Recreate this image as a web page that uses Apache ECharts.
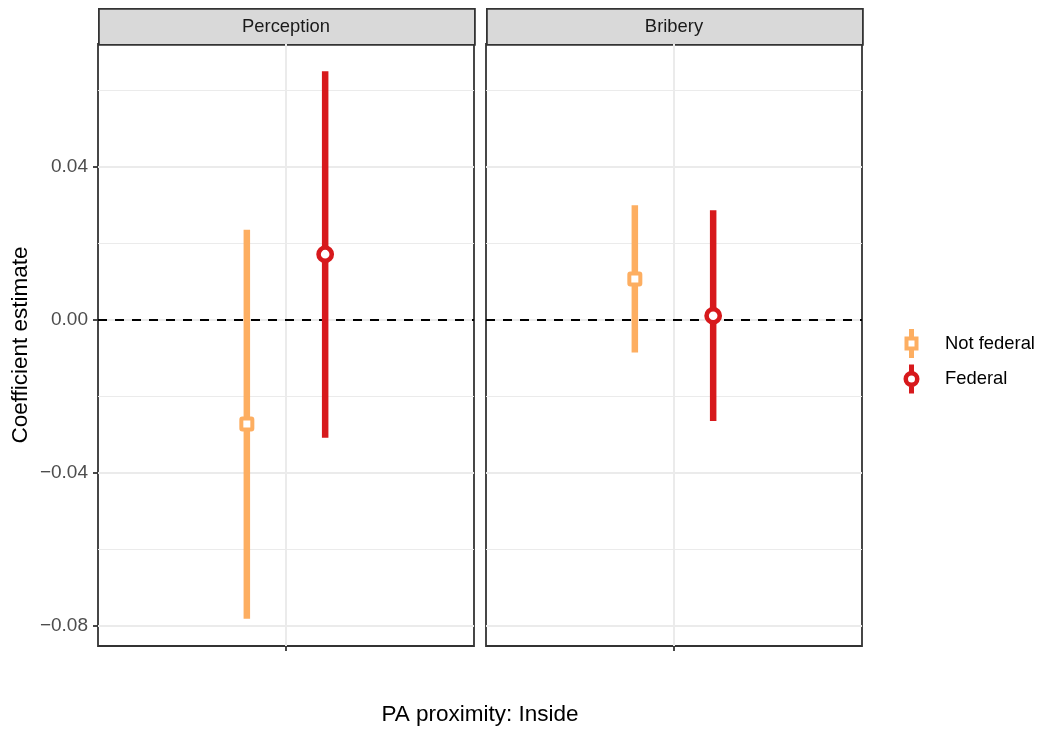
<!DOCTYPE html>
<html>
<head>
<meta charset="utf-8">
<script src="https://cdn.jsdelivr.net/npm/echarts@6/dist/echarts.min.js"></script>
<style>
  html, body { margin: 0; padding: 0; background: #ffffff; }
  #chart { width: 1038px; height: 729px; }
</style>
</head>
<body>
<div id="chart"></div>
<script>
// Coefficient estimates with confidence intervals, faceted by outcome
const facets = ['Perception', 'Bribery'];
const groups = ['Not federal', 'Federal'];
const categories = ['Inside'];

// Per facet: [Not federal, Federal]
const estimate = {
  Perception: [-0.0273, 0.0171],
  Bribery:    [0.0106, 0.0010]
};
const lower = {
  Perception: [-0.0782, -0.0309],
  Bribery:    [-0.0086, -0.0265]
};
const upper = {
  Perception: [0.0235, 0.0649],
  Bribery:    [0.0299, 0.0286]
};

const majorTicks = [-0.08, -0.04, 0.00, 0.04];
const minorTicks = [-0.06, -0.02, 0.02, 0.06];

// Styling / layout
const FONT = '"Liberation Sans", Arial, Helvetica, sans-serif';
const colors = ['#FDAE61', '#D7191C'];
const dodge = [-0.125, 0.125];
const gridBoxes = [{ left: 98, top: 44, width: 376, height: 602 },
                   { left: 486, top: 44, width: 376, height: 602 }];

// y range: data extent expanded by 5% on each side
const allLo = [].concat(...facets.map(f => lower[f]));
const allHi = [].concat(...facets.map(f => upper[f]));
const lo = Math.min(...allLo), hi = Math.max(...allHi);
const pad = (hi - lo) * 0.05;
const yMin = lo - pad, yMax = hi + pad;

const fmt = v => {
  const s = Math.abs(v).toFixed(2);
  return v < -1e-9 ? '\u2212' + s : s;
};

// Legend key glyphs: vertical bar with hollow square / hollow circle
const iconSquare = 'path://M4.5 0H9.5V7.5H4.5Z M4.5 21.5H9.5V29H4.5Z M0 7.5H14V21.5H0Z M4 11.5V17.5H10V11.5Z';
const iconCircle = 'path://M5.5 0H10.5V7H5.5Z M5.5 22H10.5V29H5.5Z M16 14.5A8 8 0 1 1 0 14.5A8 8 0 1 1 16 14.5Z M11.5 14.5A3.5 3.5 0 1 0 4.5 14.5A3.5 3.5 0 1 0 11.5 14.5Z';

function renderRange(params, api) {
  const x = api.value(0);
  const top = api.coord([x, api.value(3)]);
  const bot = api.coord([x, api.value(2)]);
  const mid = api.coord([x, api.value(1)]);
  const color = api.visual('color');
  const isSquare = params.seriesName === groups[0];
  const marker = isSquare
    ? { type: 'rect', shape: { x: mid[0] - 5.5, y: mid[1] - 5.5, width: 11, height: 11, r: 1 },
        style: { fill: '#ffffff', stroke: color, lineWidth: 4 } }
    : { type: 'circle', shape: { cx: mid[0], cy: mid[1], r: 6.6 },
        style: { fill: '#ffffff', stroke: color, lineWidth: 4.6 } };
  return {
    type: 'group',
    children: [
      { type: 'line', shape: { x1: top[0], y1: top[1], x2: bot[0], y2: bot[1] },
        style: { stroke: color, lineWidth: 6.5, lineCap: 'butt' } },
      marker
    ]
  };
}

const grids = gridBoxes.map(b => Object.assign({
  show: true, borderColor: '#333333', borderWidth: 1.8, backgroundColor: '#ffffff'
}, b));

const xAxes = facets.map((f, i) => ({
  type: 'value', gridIndex: i, min: 0.4, max: 1.6, position: 'bottom',
  axisLine: { show: false, onZero: false },
  axisTick: { show: true, length: 5, customValues: [1],
              lineStyle: { color: '#333333', width: 1.8 } },
  axisLabel: { show: false, customValues: [1] },
  splitLine: { show: true, lineStyle: { color: '#EBEBEB', width: 2 } }
}));

const yAxes = [];
facets.forEach((f, i) => {
  // major lines (with labels on the first panel)
  yAxes.push({
    type: 'value', gridIndex: i, min: yMin, max: yMax,
    axisLine: { show: false, onZero: false },
    axisTick: { show: i === 0, length: 5, customValues: majorTicks,
                lineStyle: { color: '#333333', width: 1.8 } },
    axisLabel: { show: i === 0, customValues: majorTicks, formatter: fmt,
                 color: '#4D4D4D', fontSize: 19, fontFamily: FONT, margin: 10 },
    splitLine: { show: true, lineStyle: { color: '#EBEBEB', width: 2 } }
  });
  // minor lines
  yAxes.push({
    type: 'value', gridIndex: i, min: yMin, max: yMax,
    axisLine: { show: false, onZero: false },
    axisTick: { show: false, customValues: minorTicks },
    axisLabel: { show: false, customValues: minorTicks },
    splitLine: { show: true, lineStyle: { color: '#EBEBEB', width: 1.1 } }
  });
});

const series = [];
facets.forEach((f, fi) => {
  groups.forEach((g, gi) => {
    series.push({
      type: 'custom',
      name: g,
      xAxisIndex: fi,
      yAxisIndex: fi * 2,
      itemStyle: { color: colors[gi] },
      renderItem: renderRange,
      encode: { x: 0, y: [1, 2, 3] },
      data: [[1 + dodge[gi], estimate[f][gi], lower[f][gi], upper[f][gi]]],
      z: 3,
      markLine: gi === 0 ? {
        silent: true, symbol: 'none', z: 2,
        label: { show: false },
        lineStyle: { color: '#000000', width: 1.8, type: [9, 8] },
        data: [{ yAxis: 0 }]
      } : undefined
    });
  });
});

const graphics = [];
facets.forEach((f, i) => {
  const b = gridBoxes[i];
  graphics.push({
    type: 'rect', left: b.left, top: 8,
    shape: { width: b.width, height: 36 },
    style: { fill: '#D9D9D9', stroke: '#333333', lineWidth: 1.8 }
  });
  graphics.push({
    type: 'text', x: b.left + b.width / 2, y: 27,
    style: { text: f, fill: '#1A1A1A', font: '18.4px ' + FONT, align: 'center', verticalAlign: 'middle' }
  });
});
graphics.push({
  type: 'text', x: 480, y: 715,
  style: { text: 'PA proximity: ' + categories[0], fill: '#000000', font: '22.5px ' + FONT,
           align: 'center', verticalAlign: 'middle' }
});
graphics.push({
  type: 'text', x: 21, y: 345, rotation: Math.PI / 2,
  style: { text: 'Coefficient estimate', fill: '#000000', font: '22.5px ' + FONT,
           align: 'center', verticalAlign: 'middle' }
});

const chart = echarts.init(document.getElementById('chart'), null, { renderer: 'canvas' });
chart.setOption({
  backgroundColor: '#ffffff',
  animation: false,
  grid: grids,
  xAxis: xAxes,
  yAxis: yAxes,
  legend: {
    orient: 'vertical', left: 903.5, top: 329, padding: 0,
    itemWidth: 16, itemHeight: 29, itemGap: 6.5,
    selectedMode: false,
    textStyle: { color: '#000000', fontSize: 18.4, fontFamily: FONT, padding: [0, 0, 0, 20.5] },
    itemStyle: { borderWidth: 0 },
    data: [{ name: groups[0], icon: iconSquare }, { name: groups[1], icon: iconCircle }]
  },
  series: series,
  graphic: graphics
});
</script>
</body>
</html>
